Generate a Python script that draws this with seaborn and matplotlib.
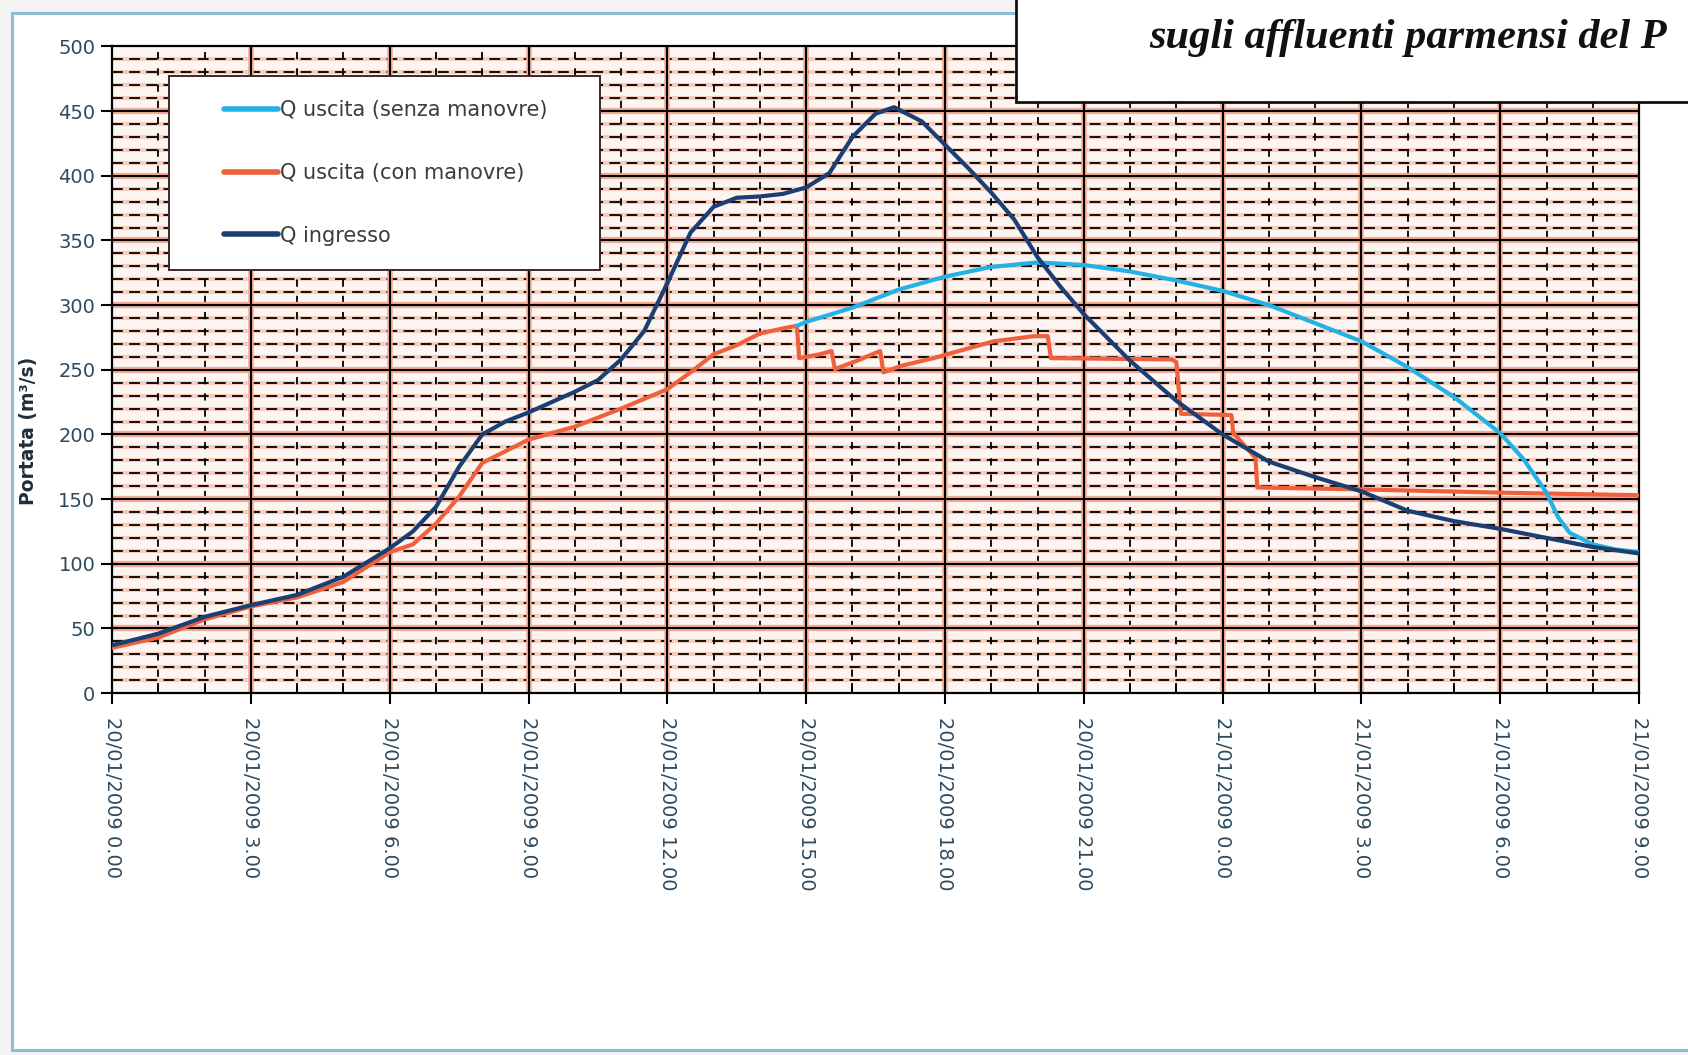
import numpy as np
import pandas as pd
import seaborn as sns
import matplotlib.pyplot as plt
from matplotlib.patches import Rectangle

sns.set_theme(style="white")
plt.rcParams['font.family'] = ['DejaVu Sans']

# hours from 20/01/2009 0.00
hours_in = [0, 1, 2, 3, 4, 5, 6, 6.5, 7, 7.5, 8, 8.5, 9, 10, 10.5, 11, 11.5, 12, 12.5, 13, 13.5, 14, 14.5, 15,
            15.5, 16, 16.5, 16.9, 17.5, 18, 18.5, 19, 19.5, 20, 20.5, 21, 22, 23, 24, 25, 26, 27, 28, 29, 30, 31, 32, 33]
q_in = [37, 46, 59, 68, 76, 90, 112, 125, 144, 175, 200, 210, 217, 233, 242, 258, 280, 317, 356, 376, 383, 384, 386, 391,
        402, 430, 448, 453, 442, 424, 406, 387, 366, 337, 314, 293, 257, 226, 200, 179, 167, 156, 141, 133, 127, 120, 113, 108]

hours_senza = [14.8, 15, 16, 17, 18, 19, 20, 21, 22, 23, 24, 25, 26, 27, 28, 29, 30, 30.5, 31, 31.25, 31.5, 32, 32.5, 33]
q_senza = [284, 287, 298, 312, 322, 329.5, 333, 331, 326, 319, 311, 300, 286, 272, 252, 229, 201, 181, 155, 136, 124, 115, 111, 109]

hours_con = [0, 1, 2, 3, 4, 5, 6, 6.5, 7, 7.5, 8, 8.5, 9, 10, 10.5, 11, 12, 12.5, 13, 13.5, 14, 14.5, 14.8,
             14.85, 15.3, 15.55, 15.62, 16.1, 16.6, 16.67, 17.05, 17.75, 19.05, 19.93, 20.22, 20.29, 22.9, 23.0, 23.1,
             24.19, 24.23, 24.71, 24.75, 27, 30, 33]
q_con = [35, 43, 57, 67, 74, 86, 109, 115, 131, 152, 178, 187, 196, 206, 213, 220, 235, 248, 262, 269, 278, 282, 284,
         259, 262, 264.5, 250.5, 257, 264.5, 248, 253, 259, 272, 276, 276, 259, 258, 256, 216,
         215, 201, 182, 159, 157.5, 155, 153]

tick_hours = [0, 3, 6, 9, 12, 15, 18, 21, 24, 27, 30, 33]
tick_labels = ["20/01/2009 0.00", "20/01/2009 3.00", "20/01/2009 6.00", "20/01/2009 9.00",
               "20/01/2009 12.00", "20/01/2009 15.00", "20/01/2009 18.00", "20/01/2009 21.00",
               "21/01/2009 0.00", "21/01/2009 3.00", "21/01/2009 6.00", "21/01/2009 9.00"]

lbl_senza = "Q uscita (senza manovre)"
lbl_con = "Q uscita (con manovre)"
lbl_in = "Q ingresso"

df_in = pd.DataFrame({"ora": hours_in, "Q": q_in})
df_senza = pd.DataFrame({"ora": hours_senza, "Q": q_senza})
df_con = pd.DataFrame({"ora": hours_con, "Q": q_con})

fig = plt.figure(figsize=(16.88, 10.55), dpi=100, facecolor='#f3f3f3')

# chart area panel with light blue border
fig.add_artist(Rectangle((0.0071, 0.0047), 1.2, 0.983, transform=fig.transFigure,
                         facecolor='white', edgecolor='#8cbcd2', linewidth=2.2, zorder=-1))

ax = fig.add_axes([0.0664, 0.343, 0.9046, 0.613])
ax.set_facecolor('#fdf5f2')

# scanned-looking grid: salmon halos under black lines
for y in np.arange(10, 500, 10):
    if y % 50:
        ax.axhline(y, color='#f7cdbd', lw=3.0, zorder=0.5)
        ax.axhline(y, color='black', lw=1.3, dashes=(6, 3.5), zorder=0.7)
for x in range(1, 33):
    if x % 3:
        ax.axvline(x, color='black', lw=1.3, dashes=(4, 5), zorder=0.7)
for y in np.arange(50, 500, 50):
    ax.axhline(y, color='#f2ab94', lw=4.5, zorder=0.8)
    ax.axhline(y, color='black', lw=1.5, zorder=1)
for x in tick_hours[1:-1]:
    ax.axvline(x, color='#f2ab94', lw=4.0, zorder=0.8)
    ax.axvline(x, color='black', lw=1.5, zorder=1)

sns.lineplot(data=df_con, x="ora", y="Q", ax=ax, color='#f0603c', lw=3.0,
             label=lbl_con, estimator=None, sort=False, zorder=3)
sns.lineplot(data=df_senza, x="ora", y="Q", ax=ax, color='#22b2e6', lw=3.0,
             label=lbl_senza, estimator=None, sort=False, zorder=3.5)
sns.lineplot(data=df_in, x="ora", y="Q", ax=ax, color='#1b3f72', lw=3.0,
             label=lbl_in, estimator=None, sort=False, zorder=4)
for ln in ax.lines[-3:]:
    ln.set_solid_joinstyle('round')

ax.set_xlim(0, 33)
ax.set_ylim(0, 500)
ax.set_yticks(np.arange(0, 501, 50))
ax.set_xticks(tick_hours)
ax.set_xticklabels(tick_labels, rotation=-90)
ax.set_xticks(range(34), minor=True)

tick_col = '#2d4a5e'
ax.tick_params(axis='x', which='major', direction='out', length=8, width=1.5, color='black',
               labelsize=14, labelcolor=tick_col, pad=9, bottom=True)
ax.tick_params(axis='x', which='minor', direction='in', length=7, width=1.3, color='black', bottom=True)
ax.tick_params(axis='y', which='major', direction='out', length=8, width=1.5, color='black',
               labelsize=14, labelcolor=tick_col, pad=4, left=True)

for s in ax.spines.values():
    s.set_color('black')
    s.set_linewidth(1.6)

ax.set_xlabel("")
ax.set_ylabel("Portata (m³/s)", fontsize=13.5, fontweight='bold', color='#1e2f3a')
ax.yaxis.set_label_coords(-0.0485, 0.406)

# legend: white box drawn separately, entries placed inside it
ax.add_patch(Rectangle((0.0373, 0.655), 0.2823, 0.30, transform=ax.transAxes,
                       facecolor='white', edgecolor='#3a2a25', linewidth=1.4, zorder=4.9))
handles, labels = ax.get_legend_handles_labels()
order = [labels.index(lbl_senza), labels.index(lbl_con), labels.index(lbl_in)]
leg = ax.legend([handles[i] for i in order], [labels[i] for i in order],
                loc='upper left', bbox_to_anchor=(0.0733, 0.917),
                borderaxespad=0, borderpad=0, fontsize=15, handlelength=2.6, handletextpad=0.1,
                labelspacing=2.05, frameon=False)
leg.set_zorder(5)
for t in leg.get_texts():
    t.set_color('#3c3c3c')
for h in leg.get_lines():
    h.set_linewidth(4)

# title box cut from the page, top right
fig.add_artist(Rectangle((0.6019, 0.9033), 0.5, 0.2, transform=fig.transFigure,
                         facecolor='white', edgecolor='#111111', linewidth=2.0, zorder=5))
fig.text(0.6806, 0.964, "sugli affluenti parmensi del P", fontsize=30.5, fontstyle='italic',
         fontweight='bold', family=['Liberation Serif', 'DejaVu Serif'], va='center', ha='left',
         color='#111111', zorder=6)

fig.savefig("out.png", dpi=100, facecolor=fig.get_facecolor())
